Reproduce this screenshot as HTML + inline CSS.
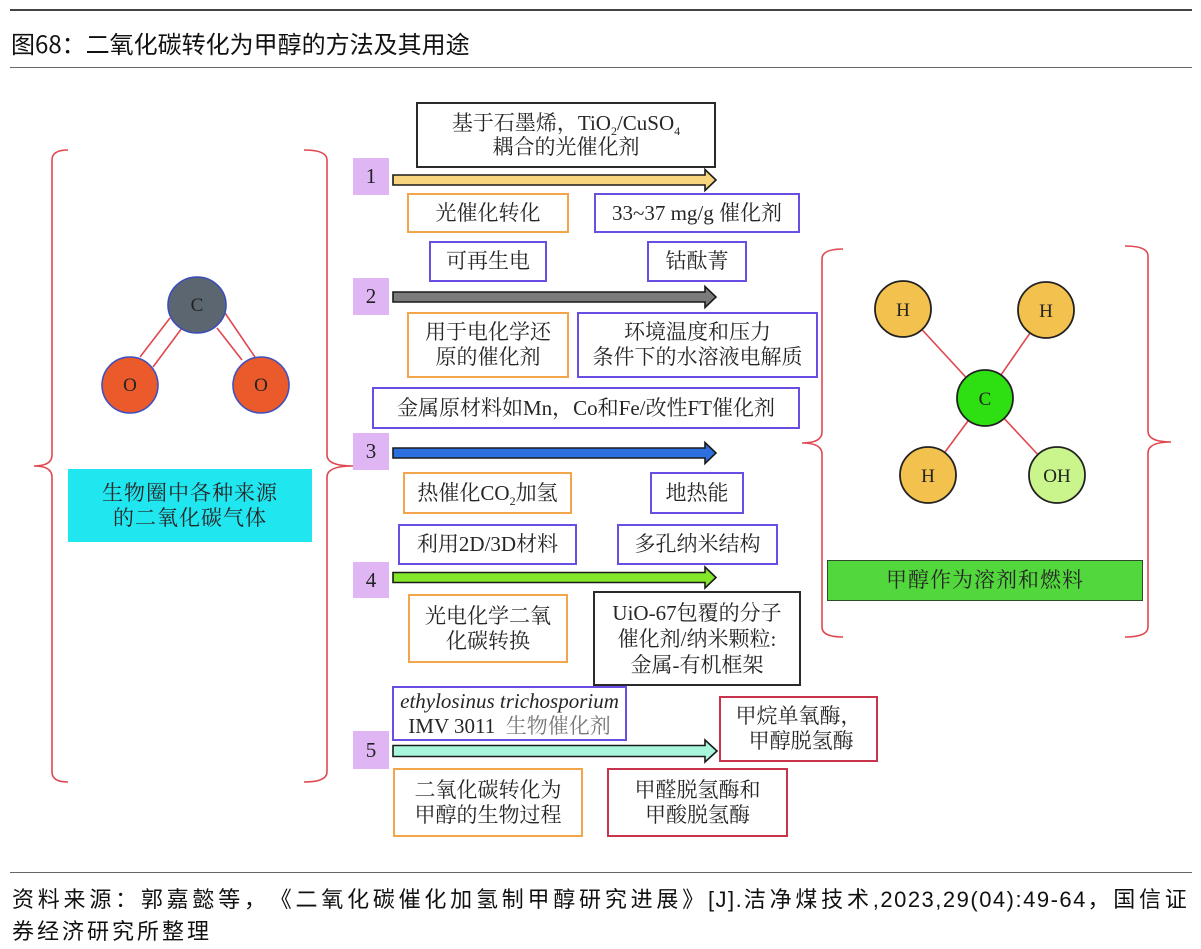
<!DOCTYPE html>
<html><head><meta charset="utf-8">
<style>
*{margin:0;padding:0;box-sizing:border-box}
html,body{width:1201px;height:949px;background:#fff;overflow:hidden}
body{position:relative;font-family:"Liberation Serif","Noto Serif CJK SC",serif;color:#262626}
.hl{position:absolute;left:10px;width:1182px;height:0}
.title{position:absolute;left:11px;top:28px;font-family:"Noto Sans CJK SC","Liberation Sans",sans-serif;font-size:24px;line-height:30px;color:#111;white-space:nowrap}
.foot{position:absolute;left:12px;font-family:"Liberation Sans","Noto Sans CJK SC",sans-serif;font-size:22px;line-height:28px;color:#111;white-space:nowrap;text-spacing-trim:space-all}
.foot .c{letter-spacing:3.2px}
.foot .l{letter-spacing:1.5px}
.b{position:absolute;border:2px solid;display:flex;flex-direction:column;align-items:center;justify-content:center;font-size:21px;line-height:25px;white-space:nowrap;background:#fff}
.p{border-color:#6a4de2}
.o{border-color:#f2a54a}
.r{border-color:#c8344c}
.k{border-color:#2a2a2a}
.n{position:absolute;left:353px;width:36px;background:#dfb5f3;display:flex;align-items:center;justify-content:center;font-size:21px;color:#222}
sub{font-size:12px;vertical-align:-5px;line-height:0}
svg{position:absolute;left:0;top:0}
</style></head><body>

<div class="hl" style="top:9px;border-top:2px solid #444"></div>
<div class="title">图68：二氧化碳转化为甲醇的方法及其用途</div>
<div class="hl" style="top:67px;border-top:1.5px solid #666"></div>

<svg width="1201" height="949" viewBox="0 0 1201 949">
  <g fill="none" stroke="#e04850" stroke-width="1.6">
    <path d="M68 150 Q52 150 52 160 L52 455 Q52 466 34 466 Q52 466 52 477 L52 772 Q52 782 68 782"/>
    <path d="M304 150 Q327 150 327 160 L327 455 Q327 466 353 466 Q327 466 327 477 L327 772 Q327 782 304 782"/>
    <path d="M843 249 Q822 249 822 259 L822 432 Q822 443 802 443 Q822 443 822 454 L822 627 Q822 637 843 637"/>
    <path d="M1125 246 Q1148 246 1148 256 L1148 431 Q1148 442 1171 442 Q1148 442 1148 453 L1148 627 Q1148 637 1125 637"/>
  </g>
  <g stroke="#e04850" stroke-width="1.6">
    <line x1="140" y1="357" x2="170" y2="318"/>
    <line x1="153" y1="367" x2="182" y2="328"/>
    <line x1="217" y1="328" x2="242" y2="360"/>
    <line x1="225" y1="313" x2="255" y2="357"/>
  </g>
  <ellipse cx="197" cy="305" rx="29" ry="28" fill="#5c6670" stroke="#3b4db8" stroke-width="1.6"/>
  <circle cx="130" cy="385" r="28" fill="#ea5a2a" stroke="#4050c0" stroke-width="1.6"/>
  <circle cx="261" cy="385" r="28" fill="#ea5a2a" stroke="#4050c0" stroke-width="1.6"/>
  <g font-family="Liberation Serif, serif" font-size="19" fill="#222" text-anchor="middle">
    <text x="197" y="311">C</text>
    <text x="130" y="391">O</text>
    <text x="261" y="391">O</text>
  </g>
  <g stroke="#e04850" stroke-width="1.6">
    <line x1="903" y1="309" x2="985" y2="398"/>
    <line x1="1046" y1="310" x2="985" y2="398"/>
    <line x1="928" y1="475" x2="985" y2="398"/>
    <line x1="1057" y1="475" x2="985" y2="398"/>
  </g>
  <g stroke="#222" stroke-width="1.8">
    <circle cx="903" cy="309" r="28" fill="#f2c14e"/>
    <circle cx="1046" cy="310" r="28" fill="#f2c14e"/>
    <circle cx="985" cy="398" r="28" fill="#2ee012"/>
    <circle cx="928" cy="475" r="28" fill="#f2c14e"/>
    <circle cx="1057" cy="475" r="28" fill="#c9f58c"/>
  </g>
  <g font-family="Liberation Serif, serif" font-size="19" fill="#222" text-anchor="middle">
    <text x="903" y="316">H</text>
    <text x="1046" y="317">H</text>
    <text x="985" y="405">C</text>
    <text x="928" y="482">H</text>
    <text x="1057" y="482">OH</text>
  </g>
  <g stroke="#1a1a1a" stroke-width="1.6" stroke-linejoin="miter">
    <polygon points="393,175 705,175 705,169.5 716,180 705,190.5 705,185 393,185" fill="#f7d57e"/>
    <polygon points="393,292 705,292 705,286.5 716,297 705,307.5 705,302 393,302" fill="#7b7b7b"/>
    <polygon points="393,448 705,448 705,442.5 716,453 705,463.5 705,458 393,458" fill="#2e6fe0"/>
    <polygon points="393,572.5 705,572.5 705,567 716,577.5 705,588 705,582.5 393,582.5" fill="#84e82a"/>
    <polygon points="393,745.5 705,745.5 705,740 717,751 705,762 705,756.5 393,756.5" fill="#a8f7dc"/>
  </g>
</svg>

<div class="b" style="left:68px;top:469px;width:244px;height:73px;border:none;background:#20e6f0;letter-spacing:1px">
  <div>生物圈中各种来源</div><div>的二氧化碳气体</div>
</div>
<div class="b" style="left:827px;top:560px;width:316px;height:41px;border:1.5px solid #2f4a2a;background:#52d83c;letter-spacing:1px">甲醇作为溶剂和燃料</div>

<div class="n" style="top:158px;height:37px">1</div>
<div class="n" style="top:278px;height:37px">2</div>
<div class="n" style="top:433px;height:37px">3</div>
<div class="n" style="top:562px;height:36px">4</div>
<div class="n" style="top:731px;height:38px">5</div>

<div class="b k" style="left:416px;top:102px;width:300px;height:66px;line-height:24px">
  <div>基于石墨烯，TiO<sub>2</sub>/CuSO<sub>4</sub></div><div>耦合的光催化剂</div>
</div>
<div class="b o" style="left:407px;top:193px;width:162px;height:40px">光催化转化</div>
<div class="b p" style="left:594px;top:193px;width:206px;height:40px">33~37 mg/g 催化剂</div>
<div class="b p" style="left:429px;top:241px;width:118px;height:41px">可再生电</div>
<div class="b p" style="left:647px;top:241px;width:100px;height:41px">钴酞菁</div>
<div class="b o" style="left:407px;top:312px;width:162px;height:66px">
  <div>用于电化学还</div><div>原的催化剂</div>
</div>
<div class="b p" style="left:577px;top:312px;width:241px;height:66px">
  <div>环境温度和压力</div><div>条件下的水溶液电解质</div>
</div>
<div class="b p" style="left:372px;top:387px;width:428px;height:42px">金属原材料如Mn，Co和Fe/改性FT催化剂</div>
<div class="b o" style="left:403px;top:472px;width:169px;height:42px"><div>热催化CO<sub>2</sub>加氢</div></div>
<div class="b p" style="left:650px;top:472px;width:94px;height:42px">地热能</div>
<div class="b p" style="left:398px;top:524px;width:179px;height:41px">利用2D/3D材料</div>
<div class="b p" style="left:617px;top:524px;width:161px;height:41px">多孔纳米结构</div>
<div class="b o" style="left:408px;top:594px;width:160px;height:69px">
  <div>光电化学二氧</div><div>化碳转换</div>
</div>
<div class="b k" style="left:593px;top:591px;width:208px;height:95px;line-height:26px">
  <div>UiO-67包覆的分子</div><div>催化剂/纳米颗粒:</div><div>金属-有机框架</div>
</div>
<div class="b p" style="left:392px;top:686px;width:235px;height:55px;line-height:25px">
  <div style="font-style:italic">ethylosinus trichosporium</div>
  <div>IMV 3011&nbsp;&nbsp;<span style="color:#777">生物催化剂</span></div>
</div>
<div class="b r" style="left:719px;top:696px;width:159px;height:66px">
  <div>甲烷单氧酶，</div><div>&nbsp;甲醇脱氢酶</div>
</div>
<div class="b o" style="left:393px;top:768px;width:190px;height:69px">
  <div>二氧化碳转化为</div><div>甲醇的生物过程</div>
</div>
<div class="b r" style="left:607px;top:768px;width:181px;height:69px">
  <div>甲醛脱氢酶和</div><div>甲酸脱氢酶</div>
</div>

<div class="hl" style="top:872px;border-top:1.5px solid #666"></div>
<div class="foot" style="top:886px;width:1178px;text-align:justify;text-align-last:justify"><span class="c">资料来源：郭嘉懿等，《二氧化碳催化加氢制甲醇研究进展》</span><span class="l">[J].</span><span class="c">洁净煤技术</span><span class="l">,2023,29(04):49-64</span><span class="c">，国信证</span></div>
<div class="foot" style="top:918px;letter-spacing:3px">券经济研究所整理</div>

</body></html>
